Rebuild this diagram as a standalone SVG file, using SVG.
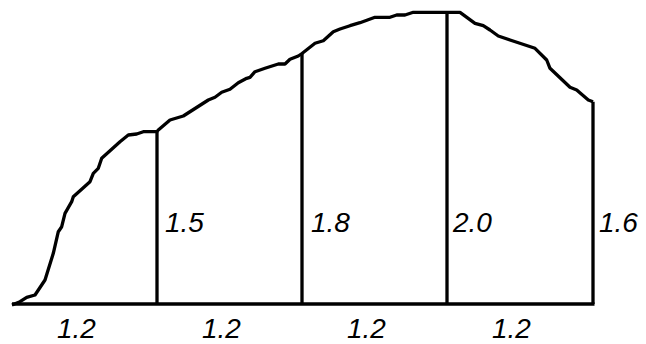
<svg xmlns="http://www.w3.org/2000/svg" width="646" height="344" viewBox="0 0 646 344">
<style>
.ln{fill:none;stroke:#000;stroke-width:3.3;stroke-linejoin:round;stroke-linecap:butt}
.lb{font-family:"Liberation Sans",Arial,sans-serif;font-style:italic;font-size:28px;fill:#000}
</style>
<rect width="646" height="344" fill="#fff"/>
<g id="curve">
<path class="ln" d="M12,305 L20,301.7 L26.7,297.3 L35,295 L45,280 L53.3,253.3 L58.3,231.7 L61.7,226.7 L65,213.3 L71.7,201.7 L73.3,196.7 L90,181.7 L93.3,173.3 L98.3,168.3 L101.7,158.3 L120,141.7 L128.3,135 L136.7,134 L143.3,131.7 L157,131.5 L158.3,130 L170,120 L183.3,116 L208.3,100 L215,97.3 L221.7,92.3 L230,89.3 L238.3,82.7 L246.7,78.3 L250,77.3 L255,71.7 L265,68.3 L278.3,64 L285,64 L290,59.3 L298.3,56 L302,53.5 L315,43.3 L323.3,40.7 L333.3,31.7 L340,29 L350,25.7 L360,22.7 L375,17.3 L390,17.3 L396.7,15 L405,15 L413.3,12.3 L460,12.3 L475,23.3 L483.3,25.7 L490,30 L498.3,36 L510,40 L535,48.3 L546.7,60 L550,68.3 L570,87.3 L576.7,90 L588.3,100 L593,101.7"/>
</g>
<g id="baseline">
<path class="ln" d="M12,304 L594.5,304"/>
</g>
<g id="ordinates">
<path class="ln" d="M157,131.5 V304 M302,53.5 V304 M447,12.3 V304 M593,101.7 V304"/>
</g>
<g id="height-labels">
<text class="lb" x="165" y="232">1.5</text>
<text class="lb" x="311" y="232">1.8</text>
<text class="lb" x="453" y="232">2.0</text>
<text class="lb" x="599" y="232">1.6</text>
</g>
<g id="width-labels">
<text class="lb" x="57" y="338">1.2</text>
<text class="lb" x="202" y="338">1.2</text>
<text class="lb" x="347" y="338">1.2</text>
<text class="lb" x="492" y="338">1.2</text>
</g>
</svg>
